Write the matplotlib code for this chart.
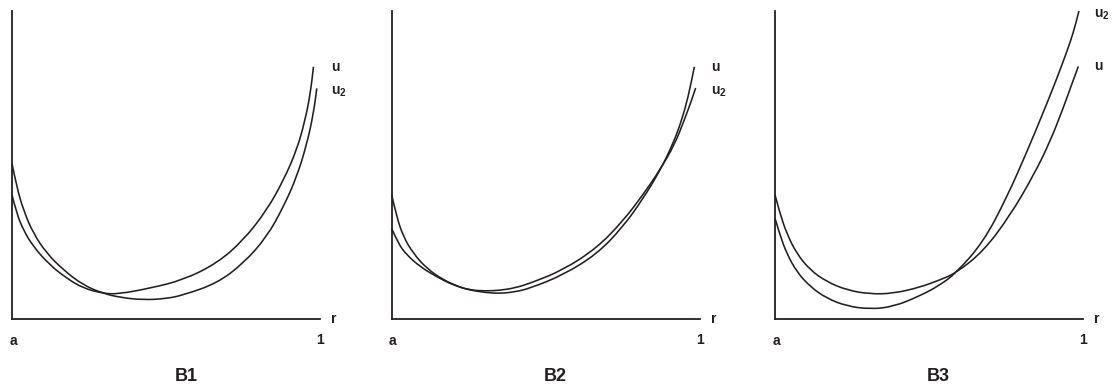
import matplotlib
matplotlib.use('Agg')
import matplotlib.pyplot as plt
from matplotlib.path import Path
from matplotlib.patches import PathPatch

plt.rcParams['font.family'] = 'Liberation Sans'
plt.rcParams['mathtext.fontset'] = 'custom'
plt.rcParams['mathtext.bf'] = 'Liberation Sans:bold'
plt.rcParams['mathtext.rm'] = 'Liberation Sans:bold'

INK = '#231f20'

# B1: single crossing
b1_u_r = [0.0, 0.015, 0.037, 0.069, 0.123, 0.178, 0.231, 0.296, 0.344, 0.448,
          0.556, 0.665, 0.751, 0.827, 0.881, 0.924, 0.951, 0.968, 0.978]
b1_u = [0.403, 0.343, 0.289, 0.235, 0.175, 0.132, 0.100, 0.083, 0.081, 0.100,
        0.127, 0.181, 0.256, 0.354, 0.451, 0.549, 0.646, 0.733, 0.819]
b1_u2_r = [0.0, 0.015, 0.037, 0.069, 0.113, 0.167, 0.231, 0.296, 0.351, 0.425,
           0.500, 0.556, 0.665, 0.751, 0.827, 0.881, 0.924, 0.957, 0.978, 0.989]
b1_u2 = [0.505, 0.430, 0.354, 0.278, 0.213, 0.159, 0.110, 0.083, 0.070, 0.062,
         0.066, 0.078, 0.116, 0.181, 0.267, 0.365, 0.462, 0.570, 0.668, 0.749]

# B2: two crossings, curves nearly touching
b2_u_r = [0.0, 0.016, 0.038, 0.070, 0.114, 0.167, 0.222, 0.254, 0.303, 0.351,
          0.400, 0.449, 0.556, 0.666, 0.750, 0.815, 0.870, 0.913, 0.941, 0.962, 0.982]
b2_u = [0.403, 0.332, 0.267, 0.213, 0.164, 0.127, 0.103, 0.094, 0.086, 0.083,
        0.088, 0.100, 0.143, 0.211, 0.299, 0.390, 0.481, 0.570, 0.646, 0.722, 0.819]
b2_u2_r = [0.0, 0.021, 0.049, 0.092, 0.146, 0.200, 0.254, 0.303, 0.351, 0.400,
           0.449, 0.556, 0.666, 0.750, 0.815, 0.870, 0.917, 0.948, 0.971, 0.986]
b2_u2 = [0.294, 0.245, 0.208, 0.170, 0.137, 0.110, 0.094, 0.091, 0.093, 0.101,
         0.116, 0.159, 0.231, 0.318, 0.403, 0.484, 0.565, 0.643, 0.705, 0.750]

# B3: u2 starts below and ends above u
b3_u_r = [0.0, 0.016, 0.038, 0.070, 0.114, 0.168, 0.233, 0.308, 0.384, 0.470,
          0.535, 0.587, 0.676, 0.762, 0.838, 0.892, 0.935, 0.962, 0.984]
b3_u = [0.403, 0.343, 0.278, 0.213, 0.159, 0.121, 0.094, 0.081, 0.083, 0.103,
        0.127, 0.149, 0.220, 0.335, 0.465, 0.575, 0.685, 0.760, 0.820]
b3_u2_r = [0.0, 0.016, 0.038, 0.070, 0.114, 0.168, 0.233, 0.308, 0.384, 0.470,
           0.535, 0.587, 0.676, 0.752, 0.816, 0.870, 0.914, 0.946, 0.968, 0.986]
b3_u2 = [0.327, 0.273, 0.213, 0.154, 0.105, 0.067, 0.042, 0.032, 0.040, 0.075,
         0.110, 0.149, 0.250, 0.395, 0.540, 0.670, 0.780, 0.866, 0.930, 1.0]

panels = [
    ('B1', 0.01079, b1_u_r, b1_u, b1_u2_r, b1_u2, 0.565),
    ('B2', 0.35225, b2_u_r, b2_u, b2_u2_r, b2_u2, 0.532),
    ('B3', 0.69694, b3_u_r, b3_u, b3_u2_r, b3_u2, 0.530),
]


def smooth_curve(xs, ys):
    # quadratic bezier through the midpoints, control points at the samples
    verts = [(xs[0], ys[0])]
    codes = [Path.MOVETO]
    for i in range(1, len(xs) - 1):
        mid = ((xs[i] + xs[i + 1]) / 2, (ys[i] + ys[i + 1]) / 2)
        verts += [(xs[i], ys[i]), mid]
        codes += [Path.CURVE3, Path.CURVE3]
    verts.append((xs[-1], ys[-1]))
    codes.append(Path.LINETO)
    return Path(verts, codes)


fig = plt.figure(figsize=(11.12, 3.91), dpi=100)

for name, left, ur, u, u2r, u2, title_x in panels:
    ax = fig.add_axes([left, 0.1841, 0.2772, 0.7877])
    for xs, ys in [(ur, u), (u2r, u2)]:
        ax.add_patch(PathPatch(smooth_curve(xs, ys), fill=False, edgecolor=INK,
                               linewidth=1.15, clip_on=False, capstyle='butt'))

    ax.set_xlim(0, 1)
    ax.set_ylim(0, 1)
    ax.spines['top'].set_visible(False)
    ax.spines['right'].set_visible(False)
    ax.spines['left'].set_linewidth(1.3)
    ax.spines['bottom'].set_linewidth(1.3)
    ax.spines['left'].set_color(INK)
    ax.spines['bottom'].set_color(INK)
    ax.set_xticks([])
    ax.set_yticks([])
    ax.patch.set_visible(False)

    # curve labels next to the end points
    ax.text(1.036, u[-1], 'u', fontsize=10, fontweight='bold', color=INK,
            ha='left', va='center')
    ax.text(1.036, u2[-1] - 0.012, r'$\mathbf{u_2}$', fontsize=10, color=INK,
            ha='left', va='center')

    ax.text(1.045, 0.0, 'r', fontsize=10, fontweight='bold', color=INK,
            ha='center', va='center')
    ax.text(0.004, -0.072, 'a', fontsize=10, fontweight='bold', color=INK,
            ha='center', va='center')
    ax.text(1.0, -0.068, '1', fontsize=10, fontweight='bold', color=INK,
            ha='center', va='center')
    ax.text(title_x, -0.188, name, fontsize=13, fontweight='bold', color=INK,
            ha='center', va='center')

fig.savefig('out.png', dpi=100)
